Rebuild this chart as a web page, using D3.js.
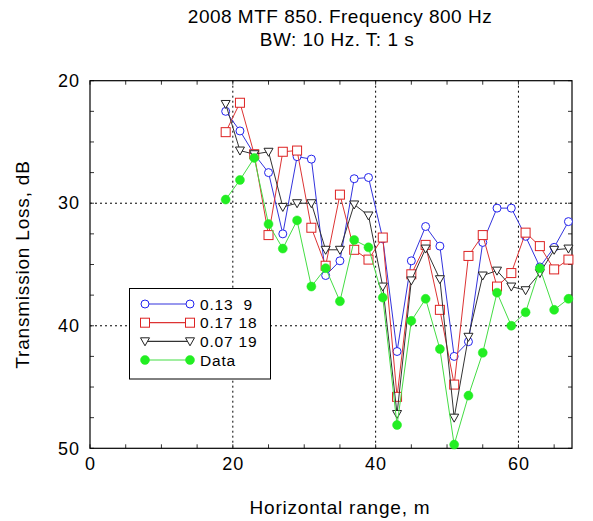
<!DOCTYPE html>
<html><head><meta charset="utf-8">
<script src="https://cdn.jsdelivr.net/npm/d3@7"></script>
<style>body{margin:0;background:#fff}svg{display:block;font-family:"Liberation Sans",Arial,sans-serif}</style>
</head><body><svg id="c" width="593" height="521"></svg>
<script>
const ranges = [19,21,23,25,27,29,31,33,35,37,39,41,43,45,47,49,51,53,55,57,59,61,63,65,67];
const s013_9  = [22.5,24.1,26.0,27.5,32.5,26.2,26.4,35.9,34.7,28.0,27.9,32.9,42.1,34.7,31.9,33.5,42.5,41.3,33.2,30.4,30.4,32.7,35.2,33.6,31.5];
const s017_18 = [24.2,21.8,26.0,32.6,25.8,25.7,32.0,35.1,29.3,33.8,34.6,32.8,45.8,35.8,33.4,38.7,44.8,34.3,32.6,36.8,35.7,32.4,33.5,35.4,34.6];
const s007_19 = [21.9,25.7,26.0,25.8,30.3,30.0,30.0,33.8,33.8,30.1,31.0,36.8,47.2,36.3,33.7,36.2,47.5,40.9,35.9,35.5,36.8,37.1,35.7,33.8,33.7];
const dataTL  = [29.7,28.1,26.3,31.7,33.7,31.4,36.8,35.3,38.0,33.0,33.6,37.7,48.1,39.6,37.8,41.9,49.7,45.7,42.2,37.3,40.0,38.9,35.3,38.7,37.8];
const seriesNames = ["0.13  9","0.17 18","0.07 19","Data"];
const xTicks = [0,20,40,60];
const yTicks = [20,30,40,50];
const titleLines = ["2008 MTF 850. Frequency 800 Hz","BW: 10 Hz. T: 1 s"];
const xLabel = "Horizontal range, m";
const yLabel = "Transmission Loss, dB";

const svg = d3.select("#c");
const L=90,R=572,T=80.7,B=448.3;
const x = d3.scaleLinear().domain([0,67.5]).range([L,R]);
const y = d3.scaleLinear().domain([20,50]).range([T,B]);

// grid
const g = svg.append("g");
g.selectAll(".gx").data([20,40,60]).enter().append("line")
  .attr("x1",d=>x(d)).attr("x2",d=>x(d)).attr("y1",T).attr("y2",B)
  .attr("stroke","#000").attr("stroke-width",1).attr("stroke-dasharray","2,3");
g.selectAll(".gy").data([30,40]).enter().append("line")
  .attr("y1",d=>y(d)).attr("y2",d=>y(d)).attr("x1",L).attr("x2",R)
  .attr("stroke","#000").attr("stroke-width",1).attr("stroke-dasharray","2,3");

// minor ticks inward
const minorX = d3.range(0,67.5,5);
const minorY = d3.range(20,50.01,2.5);
const tk = svg.append("g").attr("stroke","#333").attr("stroke-width",1);
minorX.forEach(v=>{
  tk.append("line").attr("x1",x(v)).attr("x2",x(v)).attr("y1",B).attr("y2",B-4);
  tk.append("line").attr("x1",x(v)).attr("x2",x(v)).attr("y1",T).attr("y2",T+4);
});
minorY.forEach(v=>{
  tk.append("line").attr("y1",y(v)).attr("y2",y(v)).attr("x1",L).attr("x2",L+4);
  tk.append("line").attr("y1",y(v)).attr("y2",y(v)).attr("x1",R).attr("x2",R-4);
});

// frame
svg.append("rect").attr("x",L).attr("y",T).attr("width",R-L).attr("height",B-T)
  .attr("fill","none").attr("stroke","#000").attr("stroke-width",1.2);

// axes labels via d3 axis
const xa = svg.append("g").attr("transform",`translate(0,${B})`)
  .call(d3.axisBottom(x).tickValues(xTicks).tickSize(0).tickPadding(9).tickFormat(d3.format("d")));
xa.select(".domain").remove();
xa.selectAll("text").attr("font-size",18).attr("letter-spacing",1).attr("font-family","Liberation Sans, Arial, sans-serif").attr("fill","#000");
const ya = svg.append("g").attr("transform",`translate(${L},0)`)
  .call(d3.axisLeft(y).tickValues(yTicks).tickSize(0).tickPadding(10).tickFormat(d3.format("d")));
ya.select(".domain").remove();
ya.selectAll("text").attr("font-size",18).attr("letter-spacing",1).attr("font-family","Liberation Sans, Arial, sans-serif").attr("fill","#000");

// titles
svg.append("text").attr("x",340).attr("y",23).attr("text-anchor","middle").attr("font-size",19).attr("letter-spacing",0.5).text(titleLines[0]);
svg.append("text").attr("x",337).attr("y",46).attr("text-anchor","middle").attr("font-size",19).attr("letter-spacing",0.5).text(titleLines[1]);
svg.append("text").attr("x",340).attr("y",514).attr("text-anchor","middle").attr("font-size",19).attr("letter-spacing",0.8).text(xLabel);
svg.append("text").attr("transform",`translate(29,${(T+B)/2}) rotate(-90)`).attr("text-anchor","middle").attr("font-size",19).attr("letter-spacing",0.8).text(yLabel);

const series = [
  {vals:s013_9, color:"#2222ee", lc:"#3333dd", m:"circle"},
  {vals:s017_18, color:"#dd2222", lc:"#dd3333", m:"square"},
  {vals:s007_19, color:"#222222", lc:"#333333", m:"tri"},
  {vals:dataTL, color:"#22ee22", lc:"#44dd44", m:"dot"}
];
const line = d3.line().x(d=>x(d[0])).y(d=>y(d[1]));
function marker(sel, type, color){
  if(type==="circle") sel.append("circle").attr("r",4).attr("fill","#fff").attr("stroke",color).attr("stroke-width",1);
  else if(type==="square") sel.append("rect").attr("x",-4.5).attr("y",-4.5).attr("width",9).attr("height",9).attr("fill","#fff").attr("stroke",color).attr("stroke-width",1);
  else if(type==="tri") sel.append("path").attr("d","M-4.5,-3.5L4.5,-3.5L0,4.5Z").attr("fill","#fff").attr("stroke",color).attr("stroke-width",1);
  else sel.append("circle").attr("r",4.5).attr("fill",color).attr("stroke",color).attr("stroke-width",0.5);
}
series.forEach(s=>{
  const pts = ranges.map((r,i)=>[r,s.vals[i]]);
  svg.append("path").attr("d",line(pts)).attr("fill","none").attr("stroke",s.lc).attr("stroke-width",1);
  pts.forEach(p=>{
    const mg = svg.append("g").attr("transform",`translate(${x(p[0])},${y(p[1])})`);
    marker(mg,s.m,s.color);
  });
});

// legend
const lg = svg.append("g");
lg.append("rect").attr("x",129.5).attr("y",288.5).attr("width",141).attr("height",90.5)
  .attr("fill","#fff").attr("stroke","#000").attr("stroke-width",1);
const rowY = [304,322.7,341.3,360];
series.forEach((s,i)=>{
  lg.append("line").attr("x1",145).attr("x2",190).attr("y1",rowY[i]).attr("y2",rowY[i]).attr("stroke",s.lc).attr("stroke-width",1.2);
  [145,190].forEach(px=>{
    const mg = lg.append("g").attr("transform",`translate(${px},${rowY[i]})`);
    marker(mg,s.m,s.color);
  });
  lg.append("text").attr("x",200).attr("y",rowY[i]+5.5).attr("font-size",15.5).attr("letter-spacing",0.8).attr("xml:space","preserve").style("white-space","pre").text(seriesNames[i]);
});
</script></body></html>
